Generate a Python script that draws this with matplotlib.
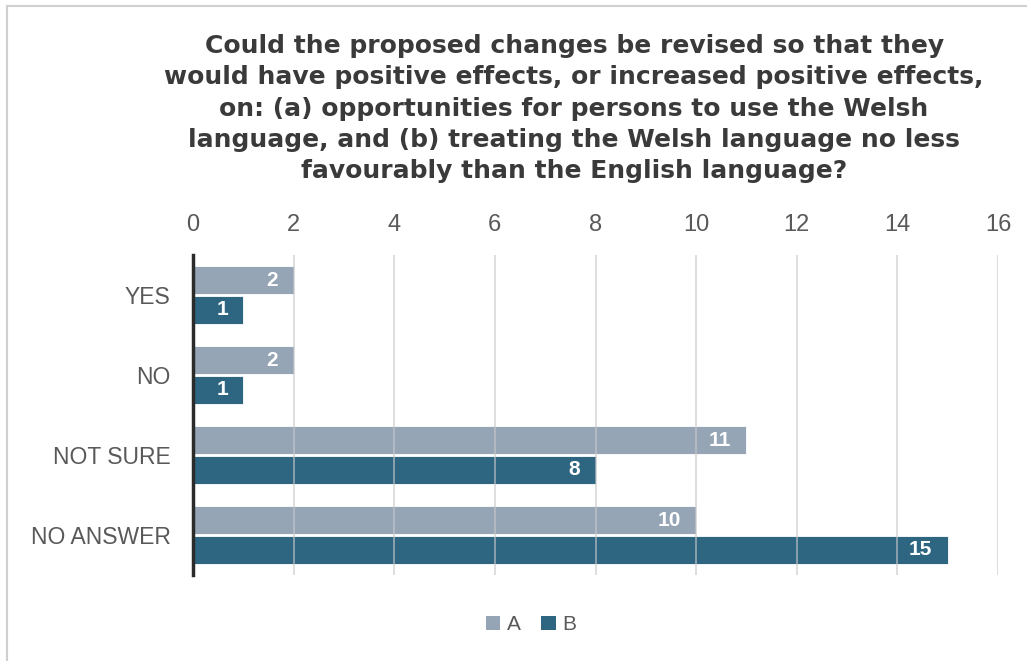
import matplotlib.pyplot as plt
import numpy as np
from matplotlib.lines import Line2D
from matplotlib.patches import Patch

# survey responses, two groups
categories = ["YES", "NO", "NOT SURE", "NO ANSWER"]
series_names = ["A", "B"]
values_a = [2, 2, 11, 10]
values_b = [1, 1, 8, 15]
x_ticks = [0, 2, 4, 6, 8, 10, 12, 14, 16]

title = ("Could the proposed changes be revised so that they\n"
         "would have positive effects, or increased positive effects,\n"
         "on: (a) opportunities for persons to use the Welsh\n"
         "language, and (b) treating the Welsh language no less\n"
         "favourably than the English language?")

color_a = "#95a5b5"
color_b = "#2e6682"
text_gray = "#595959"
sans = ["Liberation Sans", "DejaVu Sans"]


def main():
    fig = plt.figure(figsize=(10.27, 6.61), dpi=100)
    ax = fig.add_axes([0.1879, 0.1301, 0.7839, 0.4841])

    y = np.arange(len(categories))
    h = 0.35
    bars_a = ax.barh(y - h / 2 - 0.01, values_a, height=h, color=color_a,
                     edgecolor="white", linewidth=0.6, zorder=2)
    bars_b = ax.barh(y + h / 2 + 0.01, values_b, height=h, color=color_b,
                     edgecolor="white", linewidth=0.6, zorder=2)

    for bars, vals in ((bars_a, values_a), (bars_b, values_b)):
        for bar, v in zip(bars, vals):
            ax.annotate(str(v), (v, bar.get_y() + bar.get_height() / 2),
                        xytext=(-11, 0), textcoords="offset points",
                        ha="right", va="center", color="white",
                        fontsize=15, fontweight="bold", family=sans,
                        zorder=4)

    ax.set_xlim(0, 16)
    ax.set_ylim(3.5, -0.5)
    ax.set_xticks(x_ticks)
    ax.set_yticks(y)
    ax.set_yticklabels(categories, fontsize=16.5, color=text_gray,
                       family=sans)
    ax.xaxis.tick_top()
    ax.tick_params(axis="x", length=0, pad=14, labelsize=17,
                   labelcolor=text_gray)
    for lbl in ax.get_xticklabels():
        lbl.set_family(sans)
    ax.tick_params(axis="y", length=0, pad=16)

    ax.grid(axis="x", color="#c8c8c8", linewidth=1.2, alpha=0.7, zorder=3)
    ax.set_axisbelow(False)
    for side in ("top", "right", "bottom"):
        ax.spines[side].set_visible(False)
    ax.spines["left"].set_color("#2b2b2b")
    ax.spines["left"].set_linewidth(2.5)
    ax.spines["left"].set_zorder(5)

    fig.text(0.559, 0.949, title, ha="center", va="top", fontsize=18,
             fontweight="bold", color="#3a3a3a", linespacing=1.39,
             family=["DejaVu Sans"])

    handles = [Patch(facecolor=color_a), Patch(facecolor=color_b)]
    fig.legend(handles, series_names, loc="center", ncol=2,
               bbox_to_anchor=(0.517, 0.055), frameon=False,
               handlelength=0.7, handleheight=0.7, handletextpad=0.3,
               columnspacing=1.0, prop={"family": sans, "size": 15},
               labelcolor=text_gray)

    # thin frame along the top and left edge
    fig.add_artist(Line2D([0.0068, 0.0068], [0.0, 0.991],
                          transform=fig.transFigure, color="#d0d0d0", lw=1.5))
    fig.add_artist(Line2D([0.0068, 1.0], [0.991, 0.991],
                          transform=fig.transFigure, color="#d0d0d0", lw=1.5))

    fig.savefig("out.png", dpi=100)


if __name__ == "__main__":
    main()
